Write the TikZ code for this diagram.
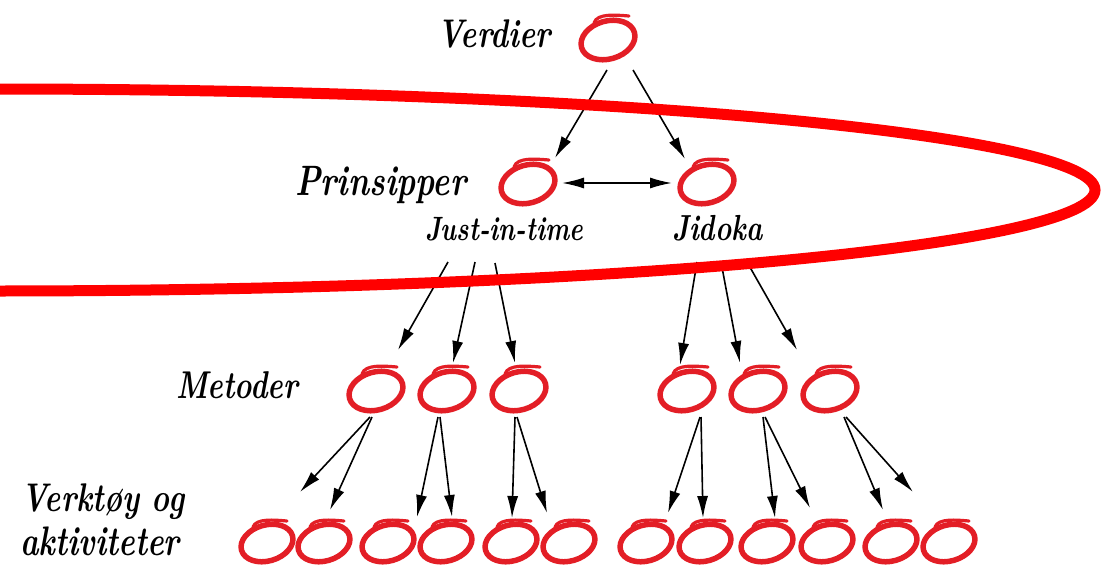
\documentclass[tikz,border=0pt]{standalone}
\usepackage{graphicx}
\usetikzlibrary{arrows.meta,shapes.geometric,calc}
\definecolor{loopred}{HTML}{E31E26}
\definecolor{bigred}{HTML}{FF0000}
\newcommand{\talltext}[1]{\scalebox{0.95}[1.25]{#1}}
\tikzset{
  loopnode/.style={ellipse, draw=loopred, line width=5.5pt, minimum width=55pt, minimum height=38pt, inner sep=0pt, rotate=16},
  smallloop/.style={ellipse, draw=loopred, line width=5.5pt, minimum width=53pt, minimum height=36pt, inner sep=0pt, rotate=16},
  flour/.style={draw=loopred, line width=3.2pt, line cap=round},
  arr/.style={-{Latex[length=22pt,width=11pt]}, line width=1.6pt, black},
  dblarr/.style={{Latex[length=22pt,width=11pt]}-{Latex[length=22pt,width=11pt]}, line width=1.6pt, black},
  lbl/.style={anchor=base west, inner sep=0pt},
  bigring/.style={draw=bigred, line width=11pt}
}
\begin{document}
\begin{tikzpicture}[x=1pt,y=-1pt]
\useasboundingbox (0,0) rectangle (1102,570);

% loops
\node[loopnode] (v) at (608,40) {};
\node[loopnode] (p) at (528,184) {};
\node[loopnode] (j) at (707,184) {};
\node[loopnode] (m1) at (376,391) {};
\node[loopnode] (m2) at (447,391) {};
\node[loopnode] (m3) at (519,391) {};
\node[loopnode] (m4) at (687,391) {};
\node[loopnode] (m5) at (758,391) {};
\node[loopnode] (m6) at (830,391) {};
\foreach \n/\x in {b1/267,b2/324,b3/388,b4/446,b5/511,b6/569,b7/646,b8/705,b9/767,b10/827,b11/891,b12/949}
  \node[smallloop] (\n) at (\x,543) {};

% flourishes on top of the loops
\foreach \n in {v,p,j,m1,m2,m3,m4,m5,m6}
  \path[flour] ($(\n)+(-14,-17)$) .. controls ($(\n)+(-11,-27)$) and ($(\n)+(8,-25)$) .. ($(\n)+(21,-24)$);
\foreach \n in {b1,b2,b3,b4,b5,b6,b7,b8,b9,b10,b11,b12}
  \path[flour] ($(\n)+(-14,-16)$) .. controls ($(\n)+(-11,-25)$) and ($(\n)+(8,-23)$) .. ($(\n)+(20,-22)$);

% labels
\node[lbl, font=\bfseries\itshape\fontsize{32}{36}\selectfont] (tv) at (437,47) {\talltext{Verdier}};
\node[lbl, font=\bfseries\itshape\fontsize{34}{38}\selectfont] (tp) at (295,195) {\talltext{Prinsipper}};
\node[lbl, font=\bfseries\itshape\fontsize{27}{32}\selectfont] (jit) at (425,240) {\talltext{Just-in-time}};
\node[lbl, font=\bfseries\itshape\fontsize{29}{32}\selectfont] (jid) at (672,240) {\talltext{Jidoka}};
\node[lbl, font=\bfseries\itshape\fontsize{31}{36}\selectfont] (tm) at (176,398) {\talltext{Metoder}};
\node[lbl, font=\bfseries\itshape\fontsize{32}{36}\selectfont] (tk1) at (21,511) {\talltext{Verktøy og}};
\node[lbl, font=\bfseries\itshape\fontsize{33}{36}\selectfont] (tk2) at (20,555) {\talltext{aktiviteter}};

% arrows from Verdier
\draw[arr] ($(v)+(-1,30)$) -- ($(p)+(27,-26)$);
\draw[arr] ($(v)+(25,30)$) -- ($(j)+(-22,-25)$);
\draw[dblarr] ($(p)+(34,-1)$) -- ($(j)+(-35,-1)$);

% from principles to methods
\draw[arr] ($(p)+(-80,78)$) -- ($(m1)+(22,-41)$);
\draw[arr] ($(p)+(-53,78)$) -- ($(m2)+(6,-28)$);
\draw[arr] ($(p)+(-33,79)$) -- ($(m3)+(-4,-28)$);
\draw[arr] ($(j)+(-10,78)$) -- ($(m4)+(-7,-26)$);
\draw[arr] ($(j)+(14,78)$) -- ($(m5)+(-18,-28)$);
\draw[arr] ($(j)+(40,78)$) -- ($(m6)+(-33,-41)$);

% from methods to tools
\draw[arr] ($(m1)+(-6,26)$) -- ($(b1)+(33,-51)$);
\draw[arr] ($(m1)+(-4,26)$) -- ($(b2)+(6,-33)$);
\draw[arr] ($(m2)+(-9,26)$) -- ($(b3)+(29,-26)$);
\draw[arr] ($(m2)+(-7,26)$) -- ($(b4)+(6,-26)$);
\draw[arr] ($(m3)+(-4,26)$) -- ($(b5)+(1,-25)$);
\draw[arr] ($(m3)+(-2,26)$) -- ($(b6)+(-22,-30)$);
\draw[arr] ($(m4)+(13,26)$) -- ($(b7)+(22,-30)$);
\draw[arr] ($(m4)+(14,26)$) -- ($(b8)+(-2,-25)$);
\draw[arr] ($(m5)+(5,26)$) -- ($(b9)+(8,-25)$);
\draw[arr] ($(m5)+(7,26)$) -- ($(b10)+(-17,-35)$);
\draw[arr] ($(m6)+(14,26)$) -- ($(b11)+(-8,-33)$);
\draw[arr] ($(m6)+(16,26)$) -- ($(b12)+(-36,-51)$);

% big red ring
\draw[bigring] (-5,190) ellipse [x radius=1100, y radius=101];
\end{tikzpicture}
\end{document}
